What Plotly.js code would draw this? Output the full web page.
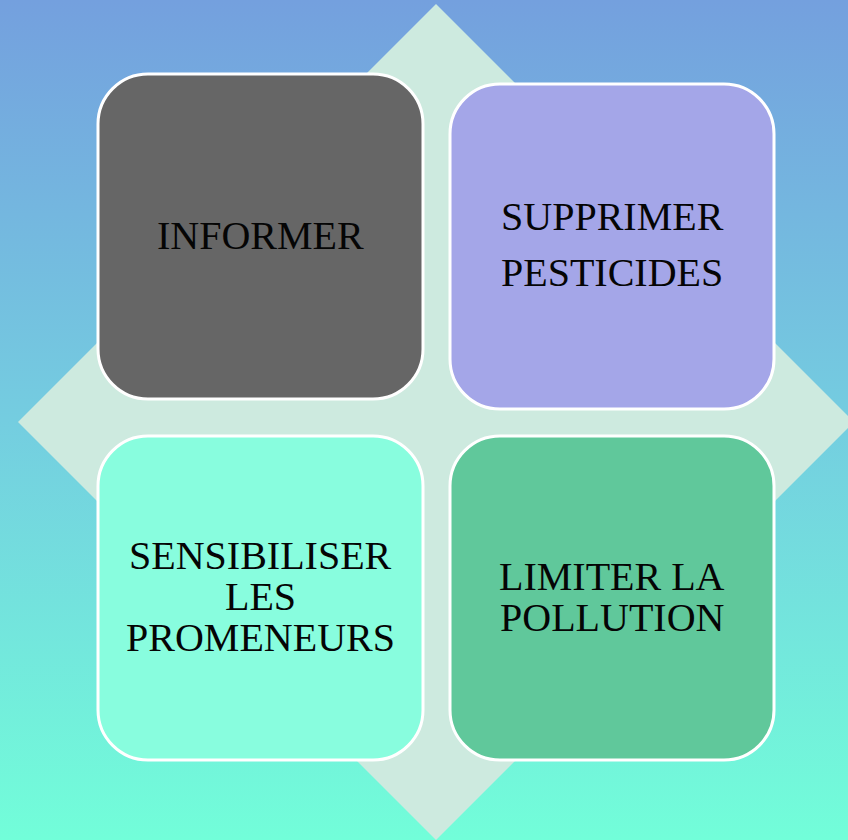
<!DOCTYPE html>
<html>
<head>
<meta charset="utf-8">
<script src="https://cdn.plot.ly/plotly-3.0.1.min.js"></script>
<style>
  html, body { margin: 0; padding: 0; width: 848px; height: 840px; overflow: hidden;
    background: linear-gradient(to bottom, #74a0de 0%, #74cde0 50%, #72fed9 100%); }
  #chart { width: 848px; height: 840px; }
</style>
</head>
<body>
<div id="chart"></div>
<script>
// ---- data ----
const boxLabels = [
  ["INFORMER"],
  ["SUPPRIMER", "PESTICIDES"],
  ["SENSIBILISER", "LES", "PROMENEURS"],
  ["LIMITER LA", "POLLUTION"]
];
const boxColors = ["#666666", "#a4a6e8", "#88fdde", "#60c89b"];

// ---- layout geometry (pixel-like units) ----
const boxRects = [
  [98, 74, 423, 399],
  [450, 84, 774, 409],
  [98, 436, 423, 760],
  [450, 436, 774, 760]
];
const textCenters = [ [260, 0], [612, 0], [260, 0], [612, 0] ];
const firstLineY = [235, 216, 555, 576];
const lineGap = [0, 56, 41, 41];

function roundRect(x0, y0, x1, y1, r) {
  const k = 0.5523 * r;
  return `M ${x0 + r} ${y0} L ${x1 - r} ${y0} C ${x1 - r + k} ${y0} ${x1} ${y0 + r - k} ${x1} ${y0 + r} ` +
         `L ${x1} ${y1 - r} C ${x1} ${y1 - r + k} ${x1 - r + k} ${y1} ${x1 - r} ${y1} ` +
         `L ${x0 + r} ${y1} C ${x0 + r - k} ${y1} ${x0} ${y1 - r + k} ${x0} ${y1 - r} ` +
         `L ${x0} ${y0 + r} C ${x0} ${y0 + r - k} ${x0 + r - k} ${y0} ${x0 + r} ${y0} Z`;
}

const shapes = [{
  type: "path", xref: "x", yref: "y",
  path: "M 436 4 L 854 422 L 436 840 L 18 422 Z",
  fillcolor: "#cdeadf", line: { width: 0 }, layer: "below"
}];
boxRects.forEach((r, i) => {
  shapes.push({
    type: "path", xref: "x", yref: "y",
    path: roundRect(r[0], r[1], r[2], r[3], 50),
    fillcolor: boxColors[i], line: { color: "#ffffff", width: 3 }, layer: "below"
  });
});

const annotations = [];
boxLabels.forEach((lines, i) => {
  lines.forEach((t, j) => {
    annotations.push({
      xref: "x", yref: "y", x: textCenters[i][0], y: firstLineY[i] + j * lineGap[i],
      text: t, showarrow: false, xanchor: "center", yanchor: "middle",
      font: { family: "Liberation Serif, Times New Roman, serif", size: 40, color: "#050505" }
    });
  });
});

Plotly.newPlot("chart", [{
  type: "scatter", x: [0, 848], y: [0, 840], mode: "markers",
  marker: { opacity: 0 }, hoverinfo: "skip", showlegend: false
}], {
  width: 848, height: 840,
  margin: { l: 0, r: 0, t: 0, b: 0, pad: 0 },
  paper_bgcolor: "rgba(0,0,0,0)", plot_bgcolor: "rgba(0,0,0,0)",
  xaxis: { range: [0, 848], visible: false, fixedrange: true },
  yaxis: { range: [840, 0], visible: false, fixedrange: true },
  shapes: shapes, annotations: annotations, showlegend: false
}, { displayModeBar: false, staticPlot: true });
</script>
</body>
</html>
